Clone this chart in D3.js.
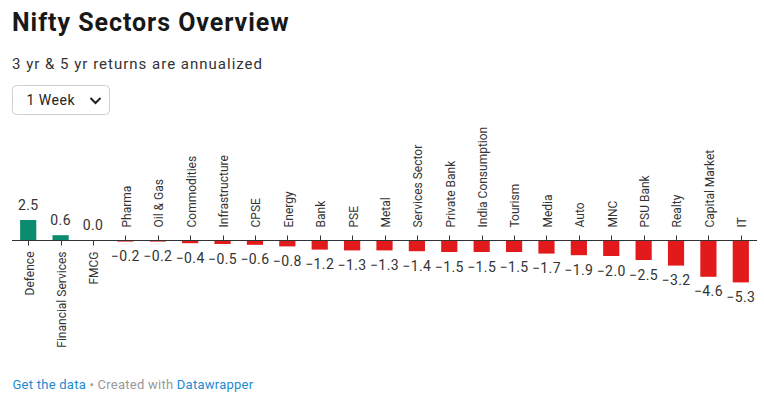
<!DOCTYPE html>
<html>
<head>
<meta charset="utf-8">
<script src="https://cdn.jsdelivr.net/npm/d3@7"></script>
<style>
  body { margin: 0; background: #fff; font-family: Roboto, sans-serif; }
</style>
</head>
<body>
<script>
let categories = ["Defence","Financial Services","FMCG","Pharma","Oil & Gas","Commodities","Infrastructure","CPSE","Energy","Bank","PSE","Metal","Services Sector","Private Bank","India Consumption","Tourism","Media","Auto","MNC","PSU Bank","Realty","Capital Market","IT"]
let values = [2.5,0.6,0.0,-0.2,-0.2,-0.4,-0.5,-0.6,-0.8,-1.2,-1.3,-1.3,-1.4,-1.5,-1.5,-1.5,-1.7,-1.9,-2.0,-2.5,-3.2,-4.6,-5.3]
let periodLabel = "1 Week"

let data = categories.map((c,i)=>({name:c, value:values[i]}))

let w = 764, h = 399
let svg = d3.select("body").append("svg").attr("width",w).attr("height",h)
            .style("font-family","Roboto, sans-serif")

// header
svg.append("text").attr("x",12).attr("y",31)
   .style("font-size","25px").style("font-weight",700).style("letter-spacing","0.95px").attr("fill","#181818")
   .text("Nifty Sectors Overview")
svg.append("text").attr("x",12).attr("y",68.5)
   .style("font-size","15px").style("letter-spacing","1px").attr("fill","#333")
   .text("3 yr & 5 yr returns are annualized")

// dropdown
let dd = svg.append("g")
dd.append("rect").attr("x",12.5).attr("y",85.5).attr("width",97).attr("height",29).attr("rx",4)
  .attr("fill","#fff").attr("stroke","#d0d0d0")
dd.append("text").attr("x",26.5).attr("y",105).style("font-size","14px").style("letter-spacing","0.5px")
  .attr("fill","#222").text(periodLabel)
dd.append("path").attr("d","M90.5,98 L95.5,103 L100.5,98").attr("fill","none").attr("stroke","#222").attr("stroke-width",2)

// chart
let x = d3.scaleBand().domain(categories).range([12,757]).paddingInner(0.5).paddingOuter(0.25)
let y = d3.scaleLinear().domain([-5.3,2.5]).range([282.4,220])
let y0 = y(0)
let fmt = d3.format(".1f")

let chart = svg.append("g")

chart.selectAll("rect.bar").data(data).enter().append("rect")
     .attr("class","bar")
     .attr("x",d=>x(d.name))
     .attr("width",x.bandwidth())
     .attr("y",d=>y(Math.max(0,d.value)))
     .attr("height",d=>Math.abs(y(d.value)-y0))
     .attr("fill",d=>d.value>=0?"#0b8c6e":"#e31a1c")

chart.append("line").attr("x1",12).attr("x2",757).attr("y1",y0+0.5).attr("y2",y0+0.5)
     .attr("stroke","#333").attr("stroke-width",1)

let cx = d=>Math.round(x(d.name)+x.bandwidth()/2)+0.5

chart.selectAll("line.tick").data(data).enter().append("line")
     .attr("class","tick")
     .attr("x1",cx).attr("x2",cx)
     .attr("y1",y0+0.5)
     .attr("y2",d=>d.value<0?y0-4.5:y0+5.5)
     .attr("stroke","#333")

// value labels
chart.selectAll("text.val").data(data).enter().append("text")
     .attr("class","val")
     .attr("x",d=>x(d.name)+x.bandwidth()/2)
     .attr("y",d=>d.value<0?y(d.value)+19.5:y(d.value)-10)
     .attr("text-anchor","middle")
     .style("font-size","14px").style("letter-spacing","0.4px").attr("fill","#333")
     .text(d=>fmt(d.value))

// category labels
chart.selectAll("text.cat").data(data).enter().append("text")
     .attr("class","cat")
     .attr("transform",d=>{
        let px = x(d.name)+x.bandwidth()/2
        let py = d.value<0 ? y0-12.5 : y0+11.5
        return "translate("+px+","+py+") rotate(-90)"
     })
     .attr("dy","0.45em")
     .attr("text-anchor",d=>d.value<0?"start":"end")
     .style("font-size","12px").attr("fill","#333")
     .text(d=>d.name)

// footer
let foot = svg.append("text").attr("x",12.5).attr("y",389).style("font-size","13px").style("letter-spacing","0.25px")
foot.append("tspan").attr("fill","#1d8ad0").text("Get the data")
foot.append("tspan").attr("fill","#999").text(" \u2022 Created with ")
foot.append("tspan").attr("fill","#1d8ad0").text("Datawrapper")
</script>
</body>
</html>
